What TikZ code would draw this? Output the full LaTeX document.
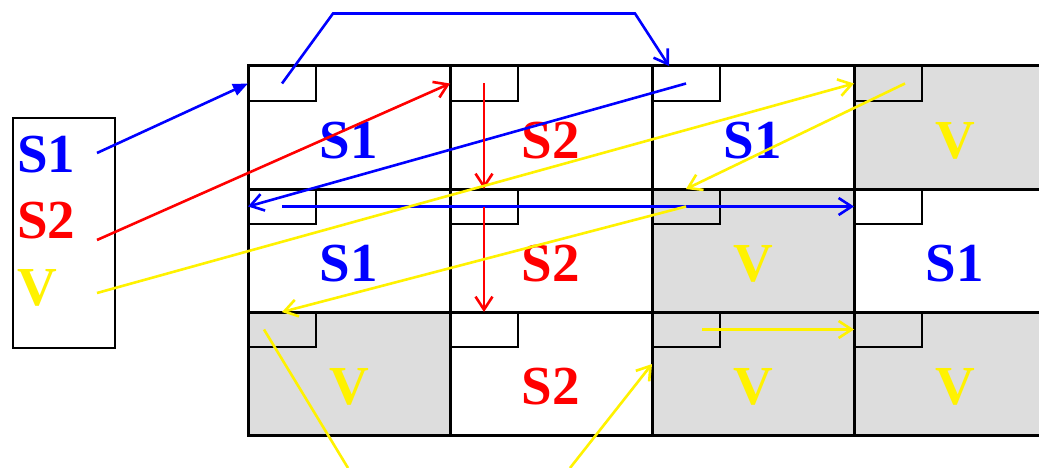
\documentclass[tikz,border=0pt]{standalone}
\usepackage{fontspec}
\setmainfont{Liberation Serif}
\usetikzlibrary{arrows.meta}
\definecolor{cellgray}{RGB}{221,221,221}
\tikzset{
  cell/.style={draw, line width=3pt, minimum width=202pt, minimum height=123pt, inner sep=0pt, outer sep=0pt, fill=white},
  vcell/.style={cell, fill=cellgray},
  tag/.style={draw, line width=2.5pt, minimum width=68pt, minimum height=35pt, inner sep=0pt, outer sep=0pt, anchor=north west},
  var/.style={font=\bfseries\fontsize{55}{60}\selectfont, inner sep=0pt},
  link/.style={line width=2.6pt, -{Straight Barb[length=13pt,width=17pt]}},
}
\begin{document}
\begin{tikzpicture}[x=1pt,y=-1pt]
\useasboundingbox (0,0) rectangle (1039,468);
\clip (0,0) rectangle (1039,468);

%legend box
\node[draw, line width=2.5pt, minimum width=102pt, minimum height=230pt, inner sep=0pt] (legend) at (64,233) {};
\node[var, anchor=west, blue]   (lS1) at (17,155) {S1};
\node[var, anchor=west, red]    (lS2) at (17,221) {S2};
\node[var, anchor=west, yellow] (lV)  at (17,288) {V};
\coordinate (fromS1) at (97,153);
\coordinate (fromS2) at (97,240);
\coordinate (fromV)  at (97,293);

%cells, row 1
\node[cell]  (c11) at (349,127.5) {};
\node[cell]  (c12) at (551,127.5) {};
\node[cell]  (c13) at (753,127.5) {};
\node[vcell] (c14) at (955,127.5) {};
%row 2
\node[cell]  (c21) at (349,250.5) {};
\node[cell]  (c22) at (551,250.5) {};
\node[vcell] (c23) at (753,250.5) {};
\node[cell]  (c24) at (955,250.5) {};
%row 3
\node[vcell] (c31) at (349,373.5) {};
\node[cell]  (c32) at (551,373.5) {};
\node[vcell] (c33) at (753,373.5) {};
\node[vcell] (c34) at (955,373.5) {};

%small boxes
\node[tag] (b11) at (c11.north west) {};
\node[tag] (b12) at (c12.north west) {};
\node[tag] (b13) at (c13.north west) {};
\node[tag] (b14) at (c14.north west) {};
\node[tag] (b21) at (c21.north west) {};
\node[tag] (b22) at (c22.north west) {};
\node[tag] (b23) at (c23.north west) {};
\node[tag] (b24) at (c24.north west) {};
\node[tag] (b31) at (c31.north west) {};
\node[tag] (b32) at (c32.north west) {};
\node[tag] (b33) at (c33.north west) {};
\node[tag] (b34) at (c34.north west) {};

%cell labels
\node[var, blue]   (t11) at (349,141) {S1};
\node[var, red]    (t12) at (551,141) {S2};
\node[var, blue]   (t13) at (753,141) {S1};
\node[var, yellow] (t14) at (955,141) {V};
\node[var, blue]   (t21) at (349,264) {S1};
\node[var, red]    (t22) at (551,264) {S2};
\node[var, yellow] (t23) at (753,264) {V};
\node[var, blue]   (t24) at (955,264) {S1};
\node[var, yellow] (t31) at (349,387) {V};
\node[var, red]    (t32) at (551,387) {S2};
\node[var, yellow] (t33) at (753,387) {V};
\node[var, yellow] (t34) at (955,387) {V};

%S1 path
\draw[blue, line width=2.6pt, -{Triangle[length=15pt,width=12pt]}] (fromS1) -- (b11.west);
\draw[blue, link] (b11.center) -- ++(51,-70) -- ++(302,0) -- ([xshift=-17pt]b13.north);
\draw[blue, link] (b13.center) -- (b21.west);
\draw[blue, link] (b21.center) -- (b24.west);

%S2 path
\draw[red, link] (fromS2) -- (b12.west);
\draw[red, link] (b12.center) -- (b22.north);
\draw[red, link] (b22.center) -- (b32.north);

%V path
\coordinate (outA) at (348,468);
\coordinate (outB) at (570,468);
\draw[yellow, link] (fromV) -- (b14.west);
\draw[yellow, link] ([xshift=17pt]b14.center) -- (b23.north);
\draw[yellow, link] (b23.center) -- (b31.north);
\draw[yellow, link] ([xshift=16pt]b33.center) -- (b34.west);
\draw[yellow, line width=2.6pt] ([xshift=-18pt]b31.center) -- (outA);
\draw[yellow, link] (outB) -- ([yshift=9.5pt]c33.west);
\end{tikzpicture}
\end{document}
